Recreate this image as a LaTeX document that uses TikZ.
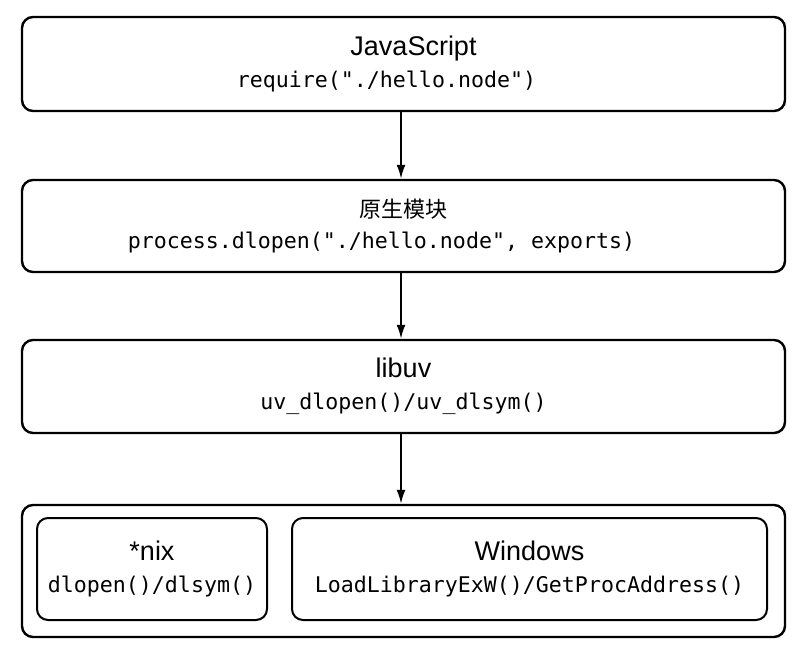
\documentclass[tikz,border=0pt]{standalone}
\usepackage{fontspec}
\setmainfont{Liberation Sans}
\setmonofont{DejaVu Sans Mono}
\newfontfamily\cjk{Noto Sans CJK SC}
\usetikzlibrary{arrows.meta}

\tikzset{
    layer/.style={draw, line width=2.4pt, rounded corners=11pt, align=center,
        minimum width=763pt, inner sep=0pt, font=\fontsize{27}{32}\selectfont},
    inner layer/.style={draw, line width=2pt, rounded corners=11pt, align=center,
        minimum height=102pt, inner sep=0pt, font=\fontsize{27}{32}\selectfont},
    call arrow/.style={line width=2pt, -{Latex[length=14pt,width=9pt]}}
}
\newcommand{\layercode}[1]{{\ttfamily\fontsize{21.6}{32}\selectfont #1}}
\newcommand{\nudge}[1]{\kern#1\kern#1}

\begin{document}
\begin{tikzpicture}[x=1pt, y=-1pt]
        \useasboundingbox (0,0) rectangle (808,654);
        % layers, top to bottom
        \node[layer, minimum height=94pt] (js) at (403.5,64)
            {\nudge{10pt}JavaScript\\\nudge{-17pt}\layercode{require("./hello.node")}};
        \node[layer, minimum height=92pt] (native) at (403.5,226)
            {{\cjk\fontsize{22}{32}\selectfont 原生模块}\\\nudge{-22pt}\layercode{process.dlopen("./hello.node", exports)}};
        \node[layer, minimum height=93pt] (libuv) at (403.5,386.5)
            {libuv\\\layercode{uv\_dlopen()/uv\_dlsym()}};
        \node[layer, minimum height=132pt] (os) at (403.5,571) {};
        \node[inner layer, minimum width=230pt] (nix) at (152,569)
            {*nix\\\layercode{dlopen()/dlsym()}};
        \node[inner layer, minimum width=475pt] (win) at (529.5,569)
            {Windows\\\layercode{LoadLibraryExW()/GetProcAddress()}};
        % calls
        \draw[call arrow] ([xshift=-2.5pt]js.south) -- ([xshift=-2.5pt]native.north);
        \draw[call arrow] ([xshift=-2.5pt]native.south) -- ([xshift=-2.5pt]libuv.north);
        \draw[call arrow] ([xshift=-2.5pt]libuv.south) -- ([xshift=-2.5pt]os.north);
    \end{tikzpicture}
\end{document}
